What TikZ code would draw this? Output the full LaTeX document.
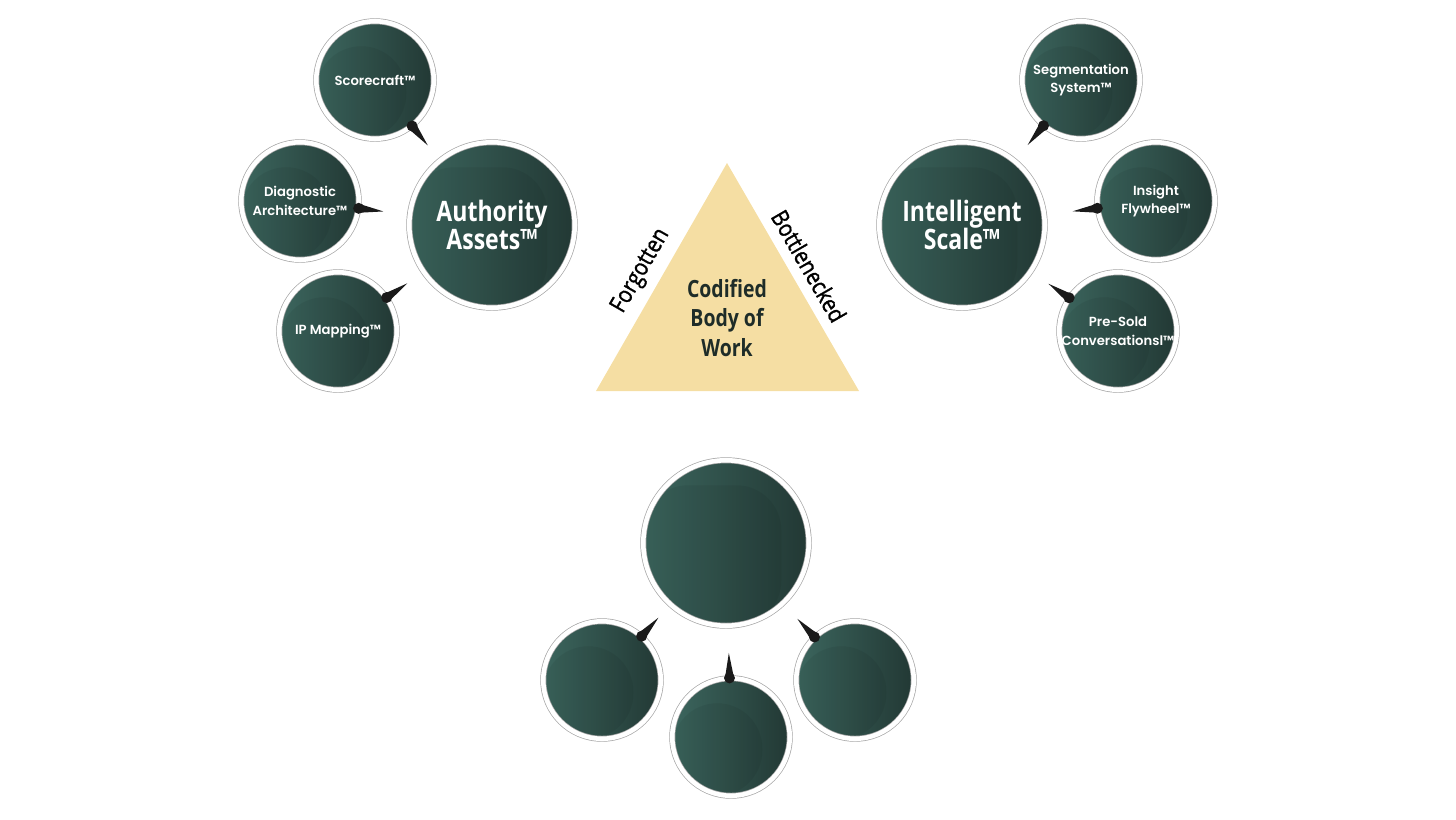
\documentclass[tikz,border=0pt]{standalone}
\usepackage{fontspec}
\usepackage{tikz}
\usetikzlibrary{calc}
\newfontfamily\headfont[FakeStretch=0.82]{Open Sans}
\newfontfamily\sidefont[FakeStretch=0.86, FakeBold=1.2]{Open Sans}
\newfontfamily\labelfont{Poppins SemiBold}
\definecolor{bubblelight}{RGB}{60, 102, 94}
\definecolor{bubbledark}{RGB}{34, 56, 52}
\definecolor{ringgray}{RGB}{165, 165, 165}
\definecolor{pyramidsand}{RGB}{245, 222, 163}
\definecolor{inktext}{RGB}{30, 44, 40}
\definecolor{wedgeblack}{RGB}{26, 26, 26}

\newcommand{\linkwedge}[2]{%
  \path (#1) -- (#2) coordinate[pos=0] (#1-w);
  \fill[wedgeblack] ($(#1-w)!0.09cm!90:(#2)$) -- ($(#1-w)!0.5cm!(#2)$) -- ($(#1-w)!0.09cm!-90:(#2)$) -- cycle;
  \fill[wedgeblack] (#1-w) circle (0.11cm);
}

\begin{document}
\begin{tikzpicture}[x=0.02cm, y=-0.02cm,
  bubble/.style={circle, inner sep=0pt, align=center, text=white,
    left color=bubblelight, right color=bubbledark,
    draw=ringgray, line width=0.4pt, double=white, double distance=2.6pt,
    path picture={\fill[black, opacity=0.06, rounded corners=0.9cm]
      ([yshift=-0.5cm]path picture bounding box.north west) rectangle
      ([xshift=-0.55cm]path picture bounding box.south east);}},
  small/.style={bubble, minimum size=2.35cm, font=\labelfont\fontsize{7.5}{10.5}\selectfont},
  big/.style={bubble, minimum size=3.31cm, font=\headfont\bfseries\fontsize{16}{16}\selectfont},
  core/.style={align=center, text=inktext, font=\headfont\bfseries\fontsize{13.5}{17}\selectfont},
  side/.style={text=black, font=\sidefont\fontsize{13.5}{14}\selectfont}]
  \useasboundingbox (0,0) rectangle (1456,819);

  \fill[pyramidsand] (727,163) -- (596,391) -- (859,391) -- cycle;
  \node[core] (cbw) at (727,318) {Codified\\ Body of\\ Work};
  \node[side, rotate=60] (fg) at (641,271) {Forgotten};
  \node[side, rotate=-60] (bn) at (809,266) {Bottlenecked};

  \node[big] (aa) at (492,225) {Authority\\ Assets™};
  \node[small] (sc) at (375,80) {Scorecraft™};
  \node[small] (da) at (300,201) {Diagnostic\\ Architecture™};
  \node[small] (ipm) at (338,331) {IP Mapping™};

  \node[big] (is) at (962,225) {Intelligent\\ Scale™};
  \node[small] (ss) at (1081,80) {Segmentation\\ System™};
  \node[small] (ifw) at (1156,201) {Insight\\ Flywheel™};
  \node[small] (psc) at (1118,331) {Pre-Sold\\ Conversationsl™};

  \node[big] (bb) at (726,543) {};
  \node[small] (bl) at (602,680) {};
  \node[small] (bm) at (731,737) {};
  \node[small] (br) at (855,680) {};

  \linkwedge{sc}{aa}
  \linkwedge{da}{aa}
  \linkwedge{ipm}{aa}
  \linkwedge{ss}{is}
  \linkwedge{ifw}{is}
  \linkwedge{psc}{is}
  \linkwedge{bl}{bb}
  \linkwedge{bm}{bb}
  \linkwedge{br}{bb}
\end{tikzpicture}
\end{document}
